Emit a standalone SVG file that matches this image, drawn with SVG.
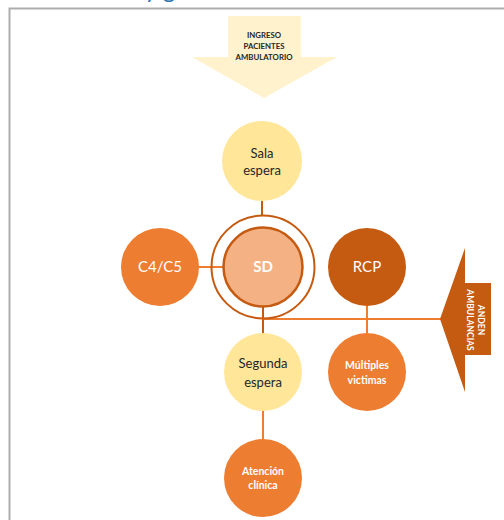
<svg xmlns="http://www.w3.org/2000/svg" width="504" height="520" viewBox="0 0 504 520">
<style>
.t{font-family:Lato,"Liberation Sans",sans-serif;text-anchor:middle}
.dk{fill:#262626}
.wh{fill:#ffffff}
.b{font-weight:bold}
.ln{stroke:#ED7D31;stroke-width:2;fill:none}
.ln2{stroke:#C55A11;stroke-width:2;fill:none}
</style>
<rect width="504" height="520" fill="#ffffff"/>
<text x="160" y="-2" font-family="Lato,'Liberation Sans',sans-serif" font-size="24" fill="#2E75B6" text-anchor="middle">y g</text>
<rect x="9.5" y="8.5" width="600" height="600" fill="none" stroke="#ADADAD" stroke-width="2"/>
<g id="connectors">
<line class="ln2" x1="262" y1="201" x2="262" y2="216"/>
<line class="ln" x1="198" y1="267" x2="223" y2="267"/>
<line class="ln2" x1="263" y1="307" x2="263" y2="333"/>
<line class="ln" x1="263" y1="319" x2="441" y2="319"/>
<line class="ln" x1="367" y1="306" x2="367" y2="333"/>
<line class="ln" x1="263" y1="411" x2="263" y2="439"/>
</g>
<g id="ingreso">
<polygon points="228,16 301,16 301,57 337,57 264,98 192,57 228,57" fill="#FFF2CC"/>
<text class="t b" font-size="7.8" fill="#262626" x="264" y="38">INGRESO</text>
<text class="t b" font-size="7.8" fill="#262626" x="264" y="49">PACIENTES</text>
<text class="t b" font-size="7.8" fill="#262626" x="264" y="60">AMBULATORIO</text>
</g>
<g id="sala">
<circle cx="262" cy="161" r="40" fill="#FFE699"/>
<text class="t dk" font-size="13" x="262" y="158">Sala</text>
<text class="t dk" font-size="13" x="262" y="175">espera</text>
</g>
<g id="sd">
<circle cx="263" cy="267" r="51.5" fill="none" stroke="#C55A11" stroke-width="2"/>
<circle cx="263" cy="267" r="39.5" fill="#F4B183" stroke="#C55A11" stroke-width="2.5"/>
<text class="t wh b" font-size="15" x="263" y="272">SD</text>
</g>
<g id="c4c5">
<circle cx="160" cy="267" r="39" fill="#ED7D31"/>
<text class="t wh" font-size="15" x="160" y="272">C4/C5</text>
</g>
<g id="rcp">
<circle cx="367" cy="267" r="39" fill="#C55A11"/>
<text class="t wh" font-size="15" x="367" y="272">RCP</text>
</g>
<g id="segunda">
<circle cx="263" cy="372" r="39" fill="#FFE699"/>
<text class="t dk" font-size="13" x="263" y="368">Segunda</text>
<text class="t dk" font-size="13" x="263" y="387">espera</text>
</g>
<g id="multiples">
<circle cx="367" cy="372" r="39" fill="#ED7D31"/>
<text class="t wh b" font-size="10.5" x="367" y="368.5">Múltiples</text>
<text class="t wh b" font-size="10.5" x="367" y="383.5">victimas</text>
</g>
<g id="atencion">
<circle cx="263" cy="478" r="39" fill="#ED7D31"/>
<text class="t wh b" font-size="10.5" x="263" y="475">Atención</text>
<text class="t wh b" font-size="10.5" x="263" y="489">clínica</text>
</g>
<g id="anden">
<polygon points="440,319 465,248 465,283 491,283 491,355 465,355 465,392" fill="#C55A11"/>
<g transform="translate(472.5,320) rotate(90)">
<text class="t wh b" font-size="8.5" x="0" y="-5">ANDEN</text>
<text class="t wh b" font-size="8.5" x="0" y="6">AMBULANCIAS</text>
</g>
</g>
</svg>
